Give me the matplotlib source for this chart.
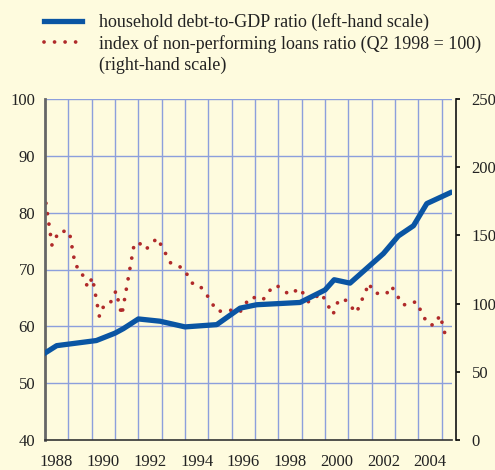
import numpy as np
import matplotlib.pyplot as plt
from matplotlib.lines import Line2D
from matplotlib.ticker import FixedLocator, NullFormatter

plt.rcParams['font.family'] = ['Liberation Serif', 'DejaVu Serif']

# household debt-to-GDP ratio (left-hand scale)
debt_t = [1988.0, 1988.5, 1990.2, 1991.0, 1991.36, 1992.0, 1992.93, 1994.0, 1995.36,
          1996.36, 1997.07, 1998.93, 2000.0, 2000.39, 2001.07, 2002.5, 2003.14,
          2003.79, 2004.36, 2005.36]
debt_v = [55.3, 56.6, 57.5, 58.8, 59.6, 61.3, 60.9, 59.9, 60.3,
          63.2, 63.8, 64.2, 66.4, 68.2, 67.6, 72.8, 75.9,
          77.7, 81.6, 83.5]

# index of non-performing loans ratio, Q2 1998 = 100 (right-hand scale)
npl_t = [1988.04, 1988.30, 1988.60, 1989.04, 1989.30, 1989.50, 1989.83, 1990.03,
         1990.33, 1990.44, 1990.74, 1991.04, 1991.29, 1991.83, 1992.07, 1992.31,
         1992.81, 1993.39, 1993.93, 1994.31, 1994.59, 1994.90, 1995.37, 1995.80,
         1996.05, 1996.36, 1996.79, 1997.0, 1997.33, 1997.79, 1997.97, 1998.47,
         1998.92, 1999.30, 1999.84, 2000.34, 2000.59, 2000.89, 2001.34, 2001.89,
         2002.04, 2002.33, 2002.64, 2002.82, 2002.97, 2003.31, 2003.61, 2003.90,
         2004.39, 2004.67, 2004.93, 2005.13]
npl_v = [173.6, 142.7, 153.0, 153.0, 127.8, 125.6, 112.0, 119.2,
         90.7, 97.0, 98.4, 109.3, 91.5, 144.4, 143.9, 139.5,
         148.1, 129.6, 125.9, 115.0, 114.0, 107.3, 94.4, 94.6,
         95.4, 94.0, 104.8, 104.3, 102.6, 113.2, 112.8, 106.6,
         111.3, 101.1, 107.6, 92.0, 103.1, 102.4, 93.2, 115.0,
         108.8, 107.0, 107.3, 112.8, 109.8, 99.2, 99.2, 101.6,
         85.1, 84.1, 91.5, 78.4]

years = np.arange(1988, 2006)
year_labels = [str(y) for y in range(1988, 2005, 2)]

bg = '#fefbde'
blue = '#0a55a3'
red = '#b02a2a'
dots = (0, (0.01, 2.8))

fig = plt.figure(figsize=(4.95, 4.70), dpi=100, facecolor=bg)
ax = fig.add_axes([45/495, 1-440/470, 407/495, 341/470])
ax2 = ax.twinx()
ax2.set_facecolor(bg)
ax.set_zorder(ax2.get_zorder() + 1)
ax.patch.set_visible(False)

ax.set_xlim(1988, 2005.44)
ax.set_ylim(40, 100)
ax2.set_ylim(0, 250)

# grid (drawn on the back axes so the dots sit above it)
for y in range(50, 101, 10):
    ax2.axhline((y - 40) / 60 * 250, color='#8c9fdc', lw=1.0, zorder=0)
for x in years[1:]:
    ax2.axvline(x, color='#8c9fdc', lw=1.0, zorder=0)

ax2.plot(npl_t, npl_v, color=red, lw=2.7, linestyle=dots,
         dash_capstyle='round', zorder=3)
ax.plot(debt_t, debt_v, color=blue, lw=3.8, zorder=4)

# ticks
ax.set_yticks(range(40, 101, 10))
ax.tick_params(axis='y', length=0, pad=7, labelsize=12, labelcolor='#222222')
ax.xaxis.set_major_locator(FixedLocator(years))
ax.xaxis.set_major_formatter(NullFormatter())
ax.xaxis.set_minor_locator(FixedLocator(np.arange(1988, 2005, 2) + 0.5))
ax.set_xticklabels(year_labels, minor=True)
ax.tick_params(axis='x', which='major', direction='in', length=3, width=1.2, color='#333333')
ax.tick_params(axis='x', which='minor', length=0, pad=10, labelsize=12, labelcolor='#222222')

ax2.set_yticks(range(0, 251, 50))
ax2.tick_params(axis='y', direction='out', length=3, width=1.2, pad=8,
                labelsize=12, labelcolor='#222222')
ax2.set_xticks([])

for a in (ax, ax2):
    a.spines['top'].set_visible(False)
ax.spines['right'].set_visible(False)
ax2.spines['left'].set_visible(False)
ax2.spines['bottom'].set_visible(False)
ax.spines['left'].set_color('#666666')
ax.spines['left'].set_linewidth(2)
ax.spines['bottom'].set_color('#333333')
ax.spines['bottom'].set_linewidth(1.2)
ax2.spines['right'].set_color('#111111')
ax2.spines['right'].set_linewidth(1.2)
ax2.spines['right'].set_position(('outward', 3))

# legend
h1 = Line2D([], [], color=blue, lw=3.8)
h2 = Line2D([], [], color=red, lw=2.7, linestyle=dots, dash_capstyle='round')
h3 = Line2D([], [], linestyle='none')
fig.legend([h1, h2, h3],
           ['household debt-to-GDP ratio (left-hand scale)',
            'index of non-performing loans ratio (Q2 1998 = 100)',
            '(right-hand scale)'],
           loc='upper left', bbox_to_anchor=(28/495, 1+3/470), frameon=False,
           fontsize=13, handlelength=2.1, handletextpad=0.95, labelspacing=0.2,
           labelcolor='#222222')

fig.savefig('out.png', dpi=100, facecolor=bg)
